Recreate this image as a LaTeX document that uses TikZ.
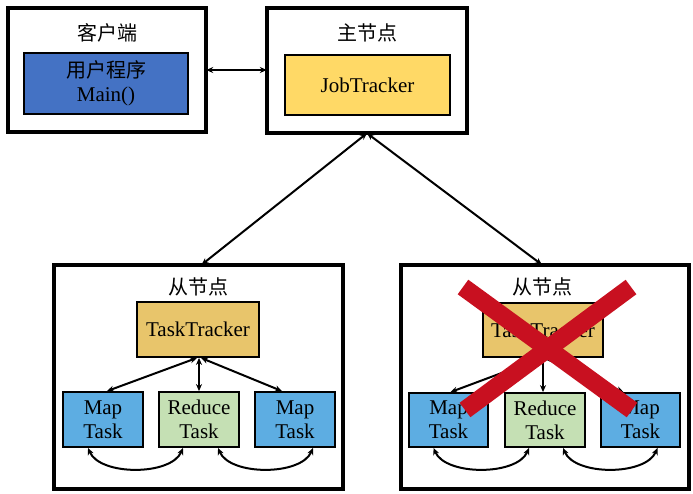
\documentclass[tikz,border=0pt]{standalone}
\usepackage{fontspec}
\setmainfont{Liberation Serif}
\newfontfamily\cjk{Noto Sans CJK SC}
\usetikzlibrary{arrows.meta,calc}
\definecolor{mainblue}{HTML}{4472C4}
\definecolor{jobyellow}{HTML}{FFD966}
\definecolor{ttgold}{HTML}{E8C56B}
\definecolor{mapblue}{HTML}{5DADE2}
\definecolor{redgreen}{HTML}{C5E0B4}
\definecolor{xred}{RGB}{200,16,32}
\begin{document}
\begin{tikzpicture}[x=1pt,y=-1pt,
  txt/.style={font=\fontsize{21}{24}\selectfont},
  outerbox/.style={draw=black,line width=4.8pt,fill=white},
  innerbox/.style={draw=black,line width=1.8pt,txt,align=center,inner sep=0pt},
  conn/.style={line width=2pt,{Stealth[length=7pt,width=6pt]}-{Stealth[length=7pt,width=6pt]}},
  oneway/.style={line width=2pt,-{Stealth[length=7pt,width=6pt]}},
  title/.style={txt,font=\fontsize{20}{23}\selectfont\cjk}
]
\useasboundingbox (0,0) rectangle (693,493);
% boxes
\draw[outerbox] (8,8) rectangle (206,132);
\node (client) at (107,70) [minimum width=198pt,minimum height=124pt] {};
\node[title] (clienttitle) at (107,33) {客户端};
\node[innerbox,fill=mainblue,minimum width=164pt,minimum height=61pt] (prog) at (106,83.5) {{\cjk\fontsize{20}{24}\selectfont 用户程序}\\Main()};

\draw[outerbox] (267,8) rectangle (467,133);
\node (master) at (367,70.5) [minimum width=200pt,minimum height=125pt] {};
\node[title] (mastertitle) at (367,33) {主节点};
\node[innerbox,fill=jobyellow,minimum width=165pt,minimum height=60pt] (jt) at (367.5,85) {JobTracker};

\draw[outerbox] (54,265) rectangle (343,489);
\node (slave1) at (198.5,377) [minimum width=289pt,minimum height=224pt] {};
\draw[outerbox] (401,265) rectangle (689,489);
\node (slave2) at (545,377) [minimum width=288pt,minimum height=224pt] {};

\node[title] (s1title) at (198,287) {从节点};
\node[title] (s2title) at (542,287) {从节点};

% slave 1
\node[innerbox,fill=ttgold,minimum width=122pt,minimum height=55pt] (tt1) at (198,329.5) {TaskTracker};
\node[innerbox,fill=mapblue,minimum width=80pt,minimum height=55pt] (m1a) at (103,419.5) {Map\\Task};
\node[innerbox,fill=redgreen,minimum width=80pt,minimum height=55pt] (r1) at (199,419.5) {Reduce\\Task};
\node[innerbox,fill=mapblue,minimum width=80pt,minimum height=55pt] (m1b) at (295,419.5) {Map\\Task};

% slave 2
\node[innerbox,fill=ttgold,minimum width=120pt,minimum height=54pt] (tt2) at (543,330) {TaskTracker};
\node[innerbox,fill=mapblue,minimum width=79pt,minimum height=54pt] (m2a) at (448.5,420) {Map\\Task};
\node[innerbox,fill=redgreen,minimum width=80pt,minimum height=54pt] (r2) at (545,420) {Reduce\\Task};
\node[innerbox,fill=mapblue,minimum width=79pt,minimum height=54pt] (m2b) at (640.5,420) {Map\\Task};

% top connectors
\draw[conn] (client.east) -- (client.east -| master.west);
\draw[conn] (master.south) -- ($(slave1.north)+(3,0)$);
\draw[conn] (master.south) -- ($(slave2.north)+(-3,0)$);

% slave 1 connectors
\draw[conn] ($(tt1.south)+(-1,0)$) -- ($(m1a.north)+(4,0)$);
\draw[conn] ($(tt1.south)+(1,0)$) -- ($(r1.north)+(0,0)$);
\draw[conn] ($(tt1.south)+(3,0)$) -- ($(m1b.north)+(-13,0)$);
\coordinate (c1a) at ($(m1a.south)+(-15,0)$);
\coordinate (c1b) at ($(r1.south)+(-16,0)$);
\coordinate (c1c) at ($(r1.south)+(19,0)$);
\coordinate (c1d) at ($(m1b.south)+(18,0)$);
\draw[conn] (c1a) .. controls ($(c1a)+(12,28)$) and ($(c1b)+(-12,28)$) .. (c1b);
\draw[conn] (c1c) .. controls ($(c1c)+(12,28)$) and ($(c1d)+(-12,28)$) .. (c1d);

% slave 2 connectors
\draw[oneway] ($(tt2.south)+(-1,0)$) -- ($(m2a.north)+(2,0)$);
\draw[oneway] ($(tt2.south)+(0,0)$) -- ($(r2.north)+(-2,0)$);
\draw[oneway] ($(tt2.south)+(1,0)$) -- ($(m2b.north)+(-17,0)$);
\coordinate (c2a) at ($(m2a.south)+(-15,0)$);
\coordinate (c2b) at ($(r2.south)+(-16,0)$);
\coordinate (c2c) at ($(r2.south)+(18,0)$);
\coordinate (c2d) at ($(m2b.south)+(17,0)$);
\draw[conn] (c2a) .. controls ($(c2a)+(12,28)$) and ($(c2b)+(-12,28)$) .. (c2b);
\draw[conn] (c2c) .. controls ($(c2c)+(12,28)$) and ($(c2d)+(-12,28)$) .. (c2d);

% red X
\draw[xred,line width=18pt] (463,287) -- (632,410);
\draw[xred,line width=18pt] (631,287) -- (465,410);
\end{tikzpicture}
\end{document}
